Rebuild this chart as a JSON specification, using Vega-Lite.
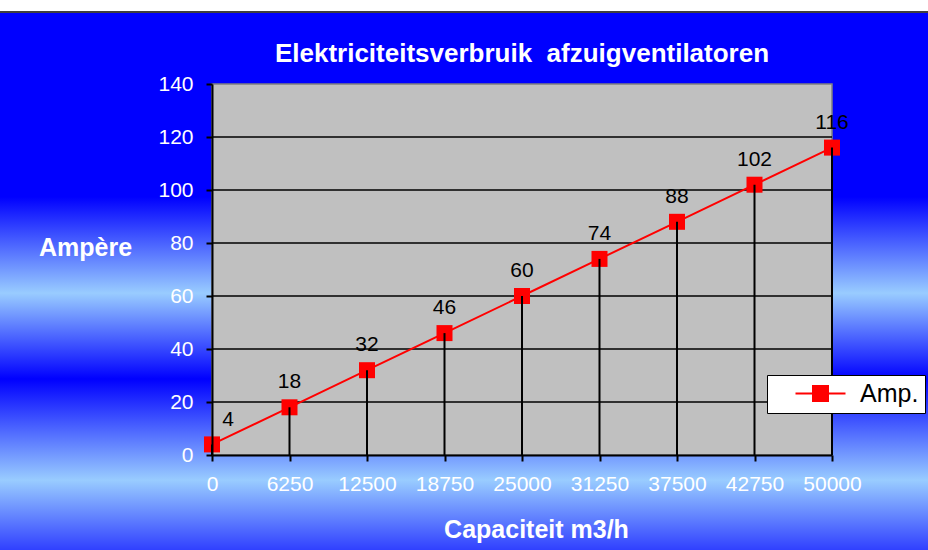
{
  "$schema": "https://vega.github.io/schema/vega-lite/v6.json",
  "width": 928,
  "height": 550,
  "autosize": "none",
  "padding": 0,
  "background": "#FFFFFF",
  "title": {
    "text": "Elektriciteitsverbruik \u00a0afzuigventilatoren",
    "color": "#FFFFFF",
    "fontSize": 26,
    "fontWeight": "bold",
    "anchor": "middle",
    "frame": "group",
    "offset": -67,
    "dx": 58
  },
  "config": {
    "font": "Liberation Sans",
    "view": {
      "stroke": null,
      "fill": {
        "gradient": "linear", "x1": 0, "y1": 0, "x2": 0, "y2": 1,
        "stops": [
          {"offset": 0, "color": "#FFFFFF"},
          {"offset": 0.0195, "color": "#FFFFFF"},
          {"offset": 0.02, "color": "#404040"},
          {"offset": 0.0235, "color": "#404040"},
          {"offset": 0.024, "color": "#0000FF"},
          {"offset": 0.358, "color": "#0000FF"},
          {"offset": 0.533, "color": "#99CCFF"},
          {"offset": 0.689, "color": "#0000FF"},
          {"offset": 0.873, "color": "#99CCFF"},
          {"offset": 1, "color": "#3040FF"}
        ]
      }
    }
  },
  "data": {
    "values": [
      {"cap": "0", "amp": 4},
      {"cap": "6250", "amp": 18},
      {"cap": "12500", "amp": 32},
      {"cap": "18750", "amp": 46},
      {"cap": "25000", "amp": 60},
      {"cap": "31250", "amp": 74},
      {"cap": "37500", "amp": 88},
      {"cap": "42750", "amp": 102},
      {"cap": "50000", "amp": 116}
    ]
  },
  "encoding": {
    "x": {
      "field": "cap", "type": "ordinal", "sort": null,
      "scale": {
        "type": "point", "padding": 0, "range": [212, 832],
        "domain": ["0", "6250", "12500", "18750", "25000", "31250", "37500", "42750", "50000"]
      },
      "axis": {
        "title": "Capaciteit m3/h",
        "offset": -95,
        "zindex": 1,
        "labelAngle": 0,
        "labelColor": "#FFFFFF",
        "labelFontSize": 21,
        "labelPadding": 12,
        "domainColor": "#000000",
        "domainWidth": 2,
        "tickColor": "#000000",
        "tickWidth": 2,
        "tickSize": 6,
        "grid": false,
        "titleColor": "#FFFFFF",
        "titleFontSize": 25,
        "titleFontWeight": "bold",
        "titleAlign": "center",
        "titleBaseline": "alphabetic",
        "titleX": 536,
        "titleY": 82
      }
    },
    "y": {
      "field": "amp", "type": "quantitative",
      "scale": {"domain": [0, 140], "nice": false, "range": [455, 84]},
      "axis": {
        "title": "Ampère",
        "offset": -212,
        "zindex": 1,
        "values": [0, 20, 40, 60, 80, 100, 120, 140],
        "labelColor": "#FFFFFF",
        "labelFontSize": 21,
        "labelPadding": 13,
        "domainColor": "#000000",
        "domainWidth": 2,
        "tickColor": "#000000",
        "tickWidth": 2,
        "tickSize": 6,
        "grid": false,
        "titleColor": "#FFFFFF",
        "titleFontSize": 25,
        "titleFontWeight": "bold",
        "titleAngle": 0,
        "titleAlign": "center",
        "titleBaseline": "alphabetic",
        "titleX": -127,
        "titleY": 255
      }
    }
  },
  "layer": [
    {
      "transform": [{"filter": "datum.cap === '0'"}],
      "mark": {"type": "rect", "fill": "#C0C0C0", "stroke": "#808080", "strokeWidth": 1.5},
      "encoding": {
        "x": {"datum": "0", "type": "ordinal"},
        "x2": {"datum": "50000"},
        "y": {"datum": 0, "type": "quantitative"},
        "y2": {"datum": 140}
      }
    },
    {
      "transform": [{"filter": "datum.cap === '0'"}],
      "mark": {"type": "rule", "color": "#000000", "strokeWidth": 1.5},
      "encoding": {"x": {"datum": "0", "type": "ordinal"}, "x2": {"datum": "50000"}, "y": {"datum": 20, "type": "quantitative"}}
    },
    {
      "transform": [{"filter": "datum.cap === '0'"}],
      "mark": {"type": "rule", "color": "#000000", "strokeWidth": 1.5},
      "encoding": {"x": {"datum": "0", "type": "ordinal"}, "x2": {"datum": "50000"}, "y": {"datum": 40, "type": "quantitative"}}
    },
    {
      "transform": [{"filter": "datum.cap === '0'"}],
      "mark": {"type": "rule", "color": "#000000", "strokeWidth": 1.5},
      "encoding": {"x": {"datum": "0", "type": "ordinal"}, "x2": {"datum": "50000"}, "y": {"datum": 60, "type": "quantitative"}}
    },
    {
      "transform": [{"filter": "datum.cap === '0'"}],
      "mark": {"type": "rule", "color": "#000000", "strokeWidth": 1.5},
      "encoding": {"x": {"datum": "0", "type": "ordinal"}, "x2": {"datum": "50000"}, "y": {"datum": 80, "type": "quantitative"}}
    },
    {
      "transform": [{"filter": "datum.cap === '0'"}],
      "mark": {"type": "rule", "color": "#000000", "strokeWidth": 1.5},
      "encoding": {"x": {"datum": "0", "type": "ordinal"}, "x2": {"datum": "50000"}, "y": {"datum": 100, "type": "quantitative"}}
    },
    {
      "transform": [{"filter": "datum.cap === '0'"}],
      "mark": {"type": "rule", "color": "#000000", "strokeWidth": 1.5},
      "encoding": {"x": {"datum": "0", "type": "ordinal"}, "x2": {"datum": "50000"}, "y": {"datum": 120, "type": "quantitative"}}
    },
    {
      "mark": {"type": "line", "color": "#FF0000", "strokeWidth": 2}
    },
    {
      "mark": {"type": "square", "filled": true, "size": 256, "opacity": 1},
      "encoding": {
        "color": {
          "datum": "Amp.",
          "scale": {"range": ["#FF0000"]},
          "legend": {
            "title": null,
            "orient": "none",
            "legendX": 767,
            "legendY": 375,
            "fillColor": "#FFFFFF",
            "strokeColor": "#000000",
            "padding": 6,
            "symbolType": "M-2.5,0H2.5M-0.75,-0.75H0.75V0.75H-0.75Z",
            "symbolSize": 400,
            "symbolOffset": 35,
            "labelOffset": 27,
            "labelFontSize": 25,
            "labelColor": "#000000",
            "symbolStrokeColor": "#FF0000",
            "symbolStrokeWidth": 2,
            "symbolFillColor": "#FF0000",
            "encode": {
              "symbols": {
                "fill": {"value": "#FF0000"},
                "stroke": {"value": "#FF0000"},
                "strokeWidth": {"value": 2},
                "opacity": {"value": 1}
              }
            }
          }
        }
      }
    },
    {
      "mark": {"type": "rule", "color": "#000000", "strokeWidth": 2},
      "encoding": {"y2": {"datum": 0}}
    },
    {
      "transform": [{"filter": "datum.cap !== '0'"}],
      "mark": {"type": "text", "fontSize": 21, "color": "#000000", "dy": -19, "baseline": "alphabetic"},
      "encoding": {"text": {"field": "amp", "type": "quantitative"}}
    },
    {
      "transform": [{"filter": "datum.cap === '0'"}],
      "mark": {"type": "text", "fontSize": 21, "color": "#000000", "dx": 16, "dy": -18, "baseline": "alphabetic"},
      "encoding": {"text": {"field": "amp", "type": "quantitative"}}
    }
  ]
}
